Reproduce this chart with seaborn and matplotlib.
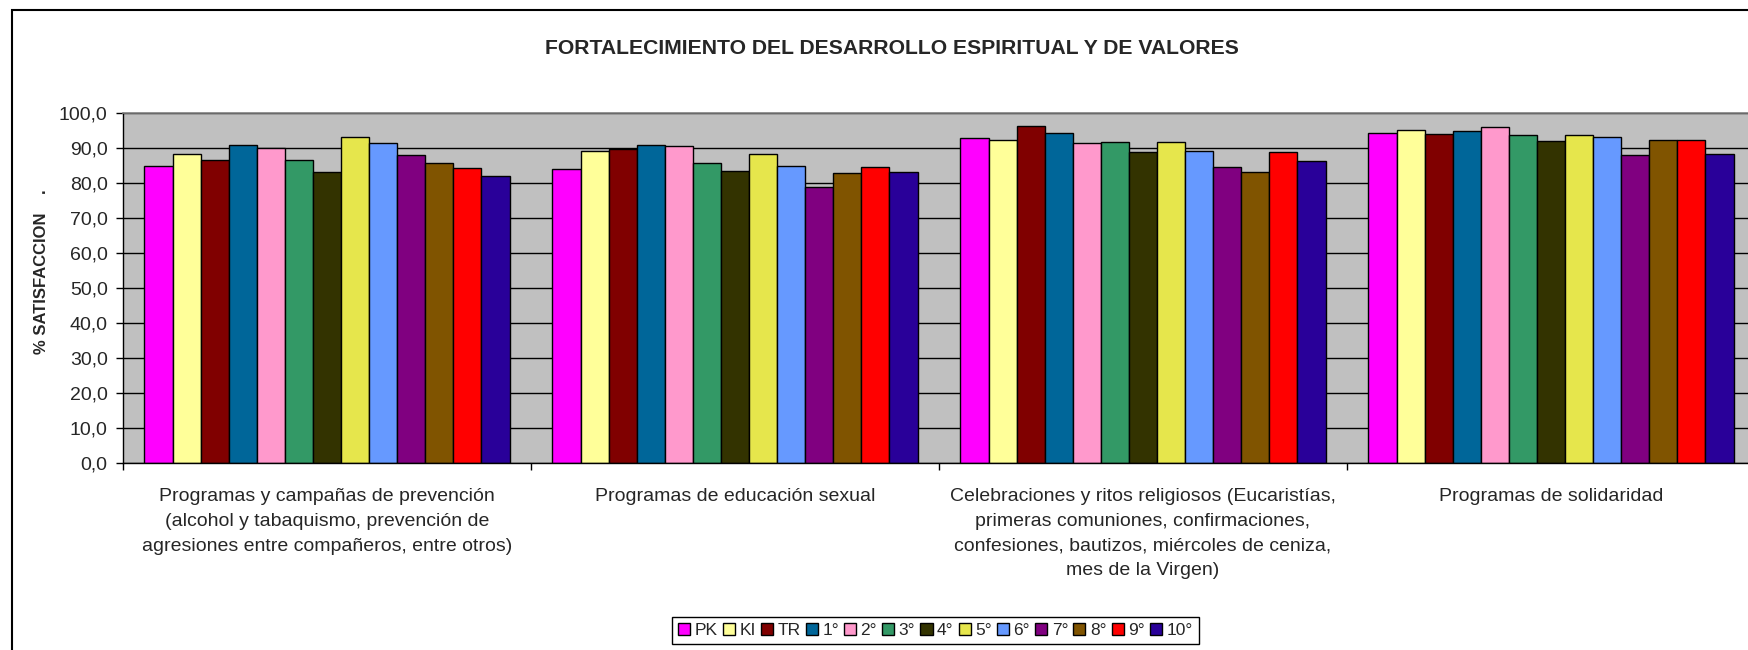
import matplotlib
matplotlib.use("Agg")
import matplotlib.pyplot as plt
import seaborn as sns
import pandas as pd
from matplotlib.patches import Rectangle
from matplotlib.ticker import FuncFormatter, MultipleLocator

categories = [
    "Programas y campañas de prevención\n(alcohol y tabaquismo, prevención de\nagresiones entre compañeros, entre otros)",
    "Programas de educación sexual",
    "Celebraciones y ritos religiosos (Eucaristías,\nprimeras comuniones, confirmaciones,\nconfesiones, bautizos, miércoles de ceniza,\nmes de la Virgen)",
    "Programas de solidaridad",
]
grades = ["PK", "KI", "TR", "1°", "2°", "3°", "4°", "5°", "6°", "7°", "8°", "9°", "10°"]
colors = ["#FF00FF", "#FFFF99", "#800000", "#006699", "#FF99CC", "#339966", "#333300",
          "#E6E64C", "#6699FF", "#800080", "#805400", "#FF0000", "#290099"]

prevencion = [85.0, 88.4, 86.7, 91.0, 90.1, 86.7, 83.2, 93.1, 91.4, 88.1, 85.8, 84.2, 81.9]
educacion = [84.1, 89.2, 89.6, 91.0, 90.6, 85.8, 83.3, 88.4, 85.0, 78.9, 83.0, 84.5, 83.2]
celebraciones = [93.0, 92.3, 96.2, 94.4, 91.4, 91.8, 88.9, 91.8, 89.2, 84.5, 83.2, 88.8, 86.3]
solidaridad = [94.4, 95.1, 94.0, 94.9, 96.1, 93.6, 91.9, 93.6, 93.1, 88.1, 92.4, 92.4, 88.4]

rows = []
for cat, vals in zip(categories, [prevencion, educacion, celebraciones, solidaridad]):
    for g, v in zip(grades, vals):
        rows.append((cat, g, v))
df = pd.DataFrame(rows, columns=["categoria", "curso", "pct"])

sns.set_theme(style="white")
plt.rcParams["font.family"] = ["Liberation Sans", "DejaVu Sans"]

fig = plt.figure(figsize=(17.49, 6.5), dpi=100)
ax = fig.add_axes([123 / 1749, 1 - 463 / 650, 1632 / 1749, 350 / 650])

sns.barplot(data=df, x="categoria", y="pct", hue="curso", hue_order=grades,
            order=categories, palette=colors, saturation=1, width=0.895,
            edgecolor="black", linewidth=1, errorbar=None, ax=ax)

ax.set_facecolor("#C0C0C0")
ax.set_xlim(-0.5, 3.5)
ax.set_ylim(0, 100)
ax.yaxis.set_major_locator(MultipleLocator(10))
ax.yaxis.set_major_formatter(FuncFormatter(lambda v, p: f"{v:.1f}".replace(".", ",")))
ax.grid(axis="y", color="black", linewidth=1)
ax.set_axisbelow(True)
fig.canvas.draw()
ax.yaxis.get_gridlines()[-1].set_visible(False)

for s in ["left", "bottom"]:
    ax.spines[s].set_color("black")
    ax.spines[s].set_linewidth(1)
ax.spines["top"].set_color("#808080")
ax.spines["top"].set_linewidth(1.2)
ax.spines["right"].set_visible(False)

ax.tick_params(axis="y", direction="out", length=5, width=1, color="black",
               labelsize=14, pad=6, left=True)
ax.set_xticks(range(len(categories)), labels=categories)
ax.set_xticks([-0.5, 0.5, 1.5, 2.5, 3.5], minor=True)
ax.tick_params(axis="x", which="major", length=0, labelsize=14, pad=18)
ax.tick_params(axis="x", which="minor", length=5, width=1, color="black",
               direction="out", bottom=True)
for t in ax.get_xticklabels():
    t.set_verticalalignment("top")
    t.set_linespacing(1.6)
ax.set_xlabel("")
ax.set_ylabel("")

fig.text(42 / 1749, 1 - 272 / 650, "% SATISFACCION    .", rotation=90,
         ha="center", va="center", fontsize=12, fontweight="bold")
fig.text(892 / 1749, 1 - 48 / 650, "FORTALECIMIENTO DEL DESARROLLO ESPIRITUAL Y DE VALORES",
         ha="center", va="center", fontsize=15.2, fontweight="bold")

handles, labels = ax.get_legend_handles_labels()
ax.get_legend().remove()
leg = fig.legend(handles, labels, ncol=13, loc="upper left",
                 bbox_to_anchor=(672 / 1749, 1 - 617 / 650), frameon=True,
                 fancybox=False, edgecolor="black", framealpha=1, fontsize=12.5,
                 handlelength=0.7, handleheight=0.7, handletextpad=0.25,
                 columnspacing=0.3, borderpad=0.35, borderaxespad=0)
leg.get_frame().set_linewidth(1)

fig.patches.append(Rectangle((12 / 1749, -0.1), 1.2, 1 - 10 / 650 + 0.1,
                             transform=fig.transFigure, fill=False,
                             edgecolor="black", linewidth=1.5))

fig.savefig("out.png", dpi=100)
